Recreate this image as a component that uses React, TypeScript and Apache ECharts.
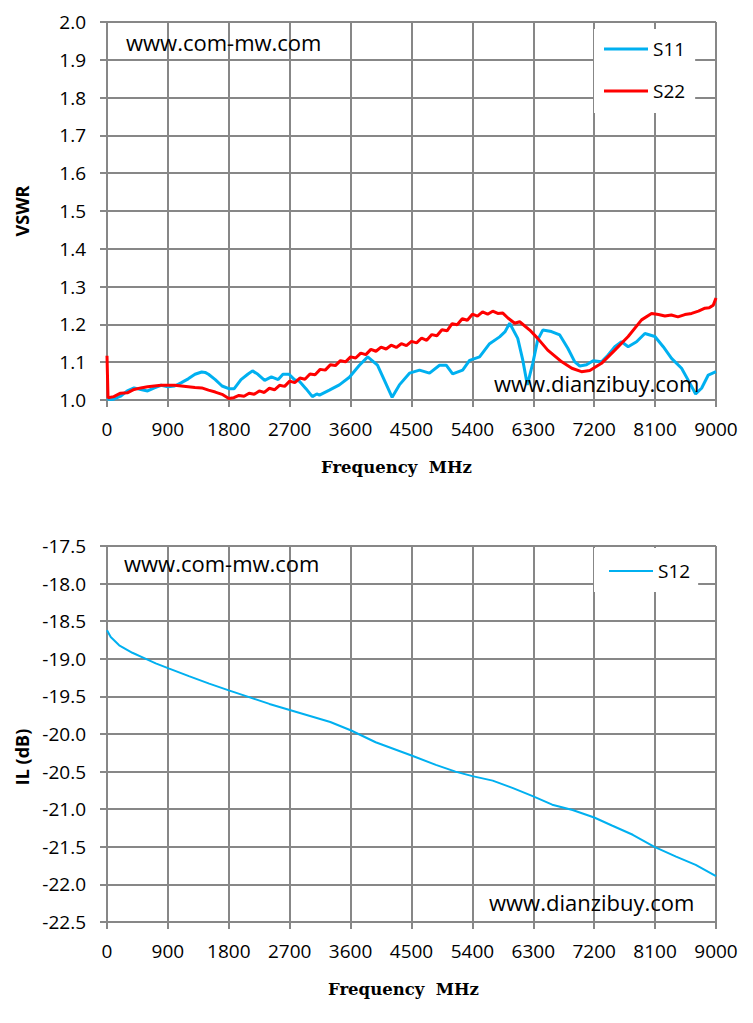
import React, { useEffect, useRef } from "react";
import * as echarts from "echarts";

// ---------- Data ----------
const s11Freq = [0, 50, 100, 200, 300, 400, 500, 600, 700, 800, 900, 1000, 1100, 1200, 1300, 1400, 1450, 1500, 1600, 1700, 1800, 1880, 1980, 2080, 2150, 2230, 2330, 2430, 2530, 2600, 2690, 2770, 2840, 2940, 3035, 3100, 3140, 3286, 3434, 3582, 3730, 3853, 3997, 4100, 4214, 4321, 4470, 4618, 4766, 4914, 5013, 5108, 5256, 5358, 5506, 5654, 5802, 5880, 5951, 6070, 6144, 6212, 6292, 6365, 6440, 6568, 6691, 6810, 6913, 6987, 7086, 7184, 7308, 7406, 7505, 7604, 7702, 7826, 7949, 8097, 8220, 8343, 8491, 8615, 8699, 8787, 8886, 9000];
const s11Vswr = [1.003, 1.001, 1.002, 1.010, 1.024, 1.032, 1.028, 1.024, 1.032, 1.039, 1.035, 1.037, 1.046, 1.056, 1.068, 1.074, 1.073, 1.068, 1.054, 1.037, 1.030, 1.030, 1.054, 1.068, 1.077, 1.068, 1.052, 1.061, 1.054, 1.068, 1.068, 1.054, 1.050, 1.030, 1.009, 1.016, 1.013, 1.026, 1.040, 1.060, 1.092, 1.114, 1.092, 1.052, 1.007, 1.040, 1.071, 1.079, 1.071, 1.092, 1.092, 1.069, 1.079, 1.105, 1.114, 1.149, 1.167, 1.180, 1.203, 1.163, 1.106, 1.040, 1.097, 1.159, 1.185, 1.181, 1.172, 1.137, 1.101, 1.090, 1.093, 1.104, 1.101, 1.119, 1.141, 1.154, 1.141, 1.154, 1.176, 1.168, 1.141, 1.110, 1.084, 1.044, 1.016, 1.031, 1.066, 1.075];

const s22Freq = [0, 15, 100, 200, 300, 400, 500, 600, 700, 800, 900, 1000, 1100, 1200, 1300, 1400, 1500, 1600, 1700, 1800, 1875, 1950, 2025, 2100, 2175, 2250, 2325, 2400, 2475, 2550, 2625, 2700, 2775, 2850, 2925, 3000, 3075, 3150, 3225, 3300, 3375, 3450, 3525, 3600, 3675, 3750, 3825, 3900, 3975, 4050, 4125, 4200, 4275, 4350, 4425, 4500, 4575, 4650, 4725, 4800, 4875, 4950, 5025, 5100, 5175, 5250, 5325, 5400, 5475, 5550, 5625, 5700, 5775, 5850, 5925, 6025, 6099, 6247, 6365, 6513, 6721, 6869, 7012, 7135, 7308, 7505, 7702, 7900, 8048, 8150, 8245, 8340, 8437, 8540, 8640, 8740, 8837, 8900, 8960, 9000];
const s22Vswr = [1.117, 1.006, 1.009, 1.018, 1.019, 1.028, 1.032, 1.035, 1.037, 1.039, 1.039, 1.039, 1.037, 1.035, 1.033, 1.032, 1.026, 1.021, 1.015, 1.004, 1.006, 1.012, 1.010, 1.018, 1.015, 1.024, 1.020, 1.031, 1.027, 1.039, 1.036, 1.050, 1.046, 1.058, 1.055, 1.069, 1.067, 1.081, 1.079, 1.093, 1.091, 1.104, 1.101, 1.114, 1.111, 1.124, 1.120, 1.134, 1.129, 1.140, 1.135, 1.145, 1.139, 1.149, 1.144, 1.155, 1.151, 1.164, 1.158, 1.173, 1.170, 1.186, 1.183, 1.202, 1.199, 1.215, 1.211, 1.227, 1.222, 1.233, 1.227, 1.235, 1.229, 1.230, 1.217, 1.203, 1.207, 1.185, 1.163, 1.132, 1.101, 1.084, 1.075, 1.078, 1.097, 1.132, 1.168, 1.212, 1.229, 1.226, 1.222, 1.225, 1.220, 1.226, 1.229, 1.235, 1.243, 1.244, 1.251, 1.270];

const s12Freq = [0, 55, 180, 375, 550, 720, 920, 1210, 1510, 1800, 2100, 2400, 2700, 3000, 3300, 3600, 3970, 4240, 4510, 4860, 5150, 5400, 5700, 6000, 6300, 6580, 6880, 7200, 7470, 7770, 8090, 8410, 8700, 9000];
const s12Il = [-18.62, -18.71, -18.82, -18.92, -18.99, -19.06, -19.13, -19.23, -19.33, -19.42, -19.51, -19.6, -19.68, -19.76, -19.84, -19.95, -20.11, -20.2, -20.29, -20.41, -20.5, -20.56, -20.62, -20.72, -20.83, -20.94, -21.01, -21.11, -21.22, -21.34, -21.5, -21.63, -21.74, -21.89];

const seriesNames = ["S11", "S22", "S12"];
const xAxisTitle = "Frequency  MHz";
const vswrTitle = "VSWR";
const ilTitle = "IL (dB)";
const watermarkTop = "www.com-mw.com";
const watermarkBottom = "www.dianzibuy.com";

// ---------- Styles ----------
const GRAY = "#878787";
const BLUE = "#00B0F0";
const RED = "#FF0000";
const LABEL_FONT = "Open Sans";

const zip = (xs: number[], ys: number[]) => xs.map((x, i) => [x, ys[i]]);

function xAxisFor(gridIndex: number, shift: number) {
  return {
    type: "value",
    gridIndex,
    min: 0,
    max: 9000,
    interval: 900,
    axisLine: { show: true, lineStyle: { color: GRAY, width: 2 } },
    axisTick: { show: true, length: 7, lineStyle: { color: GRAY, width: 2 } },
    splitLine: { show: true, lineStyle: { color: GRAY, width: 2 } },
    axisLabel: {
      color: "#000",
      fontSize: 19,
      fontFamily: LABEL_FONT,
      margin: 19,
      formatter: (v: number) => String(v),
    },
    name: xAxisTitle,
    nameLocation: "middle",
    nameGap: 59,
    nameTextStyle: {
      fontFamily: "DejaVu Serif",
      fontWeight: "bold",
      fontSize: 16.5,
      color: "#000",
      padding: [0, shift, 0, 0],
    },
  };
}

function yAxisFor(gridIndex: number, min: number, max: number, interval: number, name: string, shiftDown: number) {
  return {
    type: "value",
    gridIndex,
    min,
    max,
    interval,
    axisLine: { show: true, lineStyle: { color: GRAY, width: 2 } },
    axisTick: { show: true, length: 7, lineStyle: { color: GRAY, width: 2 } },
    splitLine: { show: true, lineStyle: { color: GRAY, width: 2 } },
    axisLabel: {
      color: "#000",
      fontSize: 19,
      fontFamily: LABEL_FONT,
      margin: 21,
      formatter: (v: number) => v.toFixed(1),
    },
    name,
    nameLocation: "middle",
    nameGap: 76,
    nameTextStyle: {
      fontFamily: LABEL_FONT,
      fontWeight: "bold",
      fontSize: 18,
      color: "#000",
      padding: [0, shiftDown, 0, 0],
    },
  };
}

function watermark(text: string, x: number, y: number) {
  return {
    type: "text",
    x,
    y,
    z: 100,
    style: {
      text,
      fontSize: 22,
      fontFamily: LABEL_FONT,
      fill: "#000",
      align: "left",
      verticalAlign: "middle",
    },
  };
}

const legendText = { fontSize: 19, fontFamily: LABEL_FONT, color: "#000", lineHeight: 22 };

export default function App() {
  const ref = useRef<HTMLDivElement>(null);

  useEffect(() => {
    if (!ref.current) return;
    const chart = echarts.init(ref.current, null, { renderer: "svg" });
    chart.setOption({
      animation: false,
      backgroundColor: "#fff",
      grid: [
        { left: 107, top: 22, width: 609, height: 378 },
        { left: 107, top: 546, width: 609, height: 376 },
      ],
      xAxis: [xAxisFor(0, 30), xAxisFor(1, 16)],
      yAxis: [
        yAxisFor(0, 1.0, 2.0, 0.1, vswrTitle, 0),
        yAxisFor(1, -22.5, -17.5, 0.5, ilTitle, 46),
      ],
      legend: [
        {
          data: [seriesNames[0], seriesNames[1]],
          orient: "vertical",
          left: 594,
          top: 29,
          padding: [9, 10, 11, 10],
          itemGap: 20,
          itemWidth: 44,
          itemHeight: 3,
          icon: "rect",
          backgroundColor: "#fff",
          textStyle: legendText,
        },
        {
          data: [seriesNames[2]],
          orient: "vertical",
          left: 594,
          top: 548,
          padding: [12, 8, 10, 15],
          itemWidth: 44,
          itemHeight: 2,
          icon: "rect",
          backgroundColor: "#fff",
          textStyle: legendText,
        },
      ],
      series: [
        {
          name: seriesNames[0],
          type: "line",
          xAxisIndex: 0,
          yAxisIndex: 0,
          data: zip(s11Freq, s11Vswr),
          symbol: "none",
          lineStyle: { color: BLUE, width: 3 },
          itemStyle: { color: BLUE },
          z: 3,
        },
        {
          name: seriesNames[1],
          type: "line",
          xAxisIndex: 0,
          yAxisIndex: 0,
          data: zip(s22Freq, s22Vswr),
          symbol: "none",
          lineStyle: { color: RED, width: 3 },
          itemStyle: { color: RED },
          z: 4,
        },
        {
          name: seriesNames[2],
          type: "line",
          xAxisIndex: 1,
          yAxisIndex: 1,
          data: zip(s12Freq, s12Il),
          symbol: "none",
          lineStyle: { color: BLUE, width: 2 },
          itemStyle: { color: BLUE },
        },
      ],
      graphic: [
        watermark(watermarkTop, 126, 42),
        watermark(watermarkBottom, 494, 383),
        watermark(watermarkTop, 124, 563),
        watermark(watermarkBottom, 489, 902),
      ],
    });
    return () => chart.dispose();
  }, []);

  return (
    <div
      ref={ref}
      style={{ position: "absolute", left: 0, top: 0, width: 753, height: 1023, background: "#fff" }}
    />
  );
}
